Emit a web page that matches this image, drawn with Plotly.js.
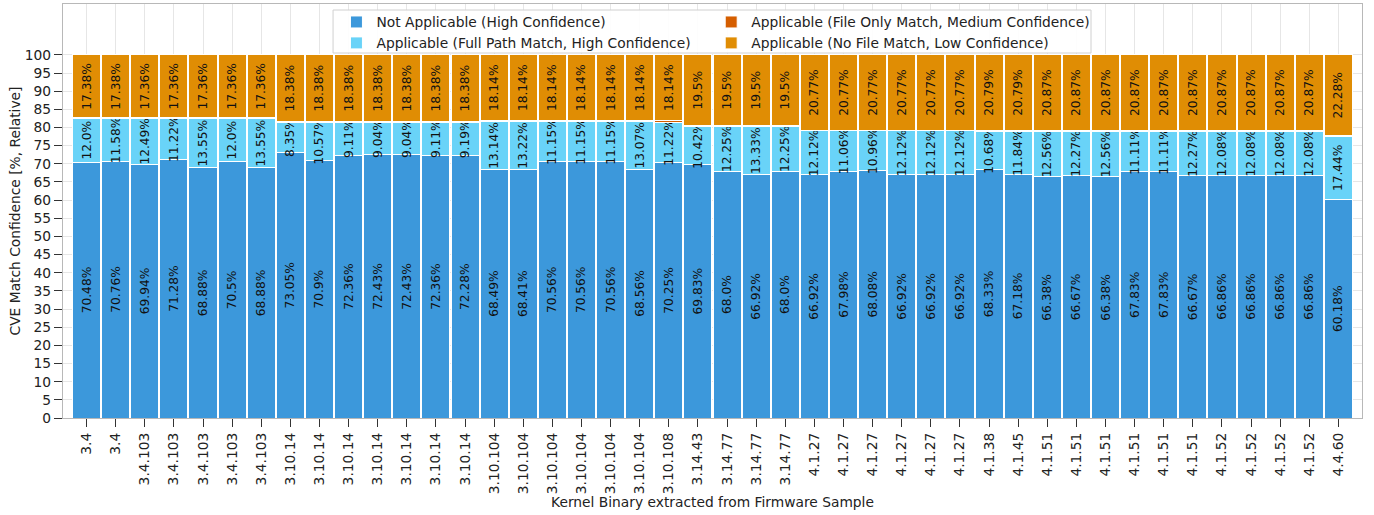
<!DOCTYPE html>
<html>
<head>
<meta charset="utf-8">
<script src="https://cdn.plot.ly/plotly-3.0.1.min.js"></script>
<style>
html,body{margin:0;padding:0;background:#fff;}
#chart{width:1374px;height:515px;}
</style>
</head>
<body>
<div id="chart"></div>
<script>
const kernels = ["3.4","3.4","3.4.103","3.4.103","3.4.103","3.4.103","3.4.103",
  "3.10.14","3.10.14","3.10.14","3.10.14","3.10.14","3.10.14","3.10.14",
  "3.10.104","3.10.104","3.10.104","3.10.104","3.10.104","3.10.104",
  "3.10.108","3.14.43","3.14.77","3.14.77","3.14.77",
  "4.1.27","4.1.27","4.1.27","4.1.27","4.1.27","4.1.27",
  "4.1.38","4.1.45",
  "4.1.51","4.1.51","4.1.51","4.1.51","4.1.51","4.1.51",
  "4.1.52","4.1.52","4.1.52","4.1.52","4.4.60"];

const notApplicable = [70.48,70.76,69.94,71.28,68.88,70.5,68.88,
  73.05,70.9,72.36,72.43,72.43,72.36,72.28,
  68.49,68.41,70.56,70.56,70.56,68.56,
  70.25,69.83,68.0,66.92,68.0,
  66.92,67.98,68.08,66.92,66.92,66.92,
  68.33,67.18,
  66.38,66.67,66.38,67.83,67.83,66.67,
  66.86,66.86,66.86,66.86,60.18];

const fullPath = [12.0,11.58,12.49,11.22,13.55,12.0,13.55,
  8.35,10.57,9.11,9.04,9.04,9.11,9.19,
  13.14,13.22,11.15,11.15,11.15,13.07,
  11.22,10.42,12.25,13.33,12.25,
  12.12,11.06,10.96,12.12,12.12,12.12,
  10.68,11.84,
  12.56,12.27,12.56,11.11,11.11,12.27,
  12.08,12.08,12.08,12.08,17.44];

const fileOnly = [0.14,0.28,0.21,0.14,0.21,0.14,0.21,
  0.22,0.15,0.15,0.15,0.15,0.15,0.15,
  0.23,0.23,0.15,0.15,0.15,0.23,
  0.39,0.25,0.25,0.25,0.25,
  0.19,0.19,0.19,0.19,0.19,0.19,
  0.2,0.19,
  0.19,0.19,0.19,0.19,0.19,0.19,
  0.19,0.19,0.19,0.19,0.1];

const noFile = [17.38,17.38,17.36,17.36,17.36,17.36,17.36,
  18.38,18.38,18.38,18.38,18.38,18.38,18.38,
  18.14,18.14,18.14,18.14,18.14,18.14,
  18.14,19.5,19.5,19.5,19.5,
  20.77,20.77,20.77,20.77,20.77,20.77,
  20.79,20.79,
  20.87,20.87,20.87,20.87,20.87,20.87,
  20.87,20.87,20.87,20.87,22.28];

const yTicks = [0,5,10,15,20,25,30,35,40,45,50,55,60,65,70,75,80,85,90,95,100];

const seriesNames = ["Not Applicable (High Confidence)",
  "Applicable (Full Path Match, High Confidence)",
  "Applicable (File Only Match, Medium Confidence)",
  "Applicable (No File Match, Low Confidence)"];
const seriesColors = ["#3c98db","#69d3f8","#d55e00","#e08d04"];

const xIdx = kernels.map((_, i) => i);
const FONT = "DejaVu Sans, sans-serif";
const FS = 13.8;

function barTrace(vals, k, legend, showText) {
  return {
    type: "bar",
    x: xIdx,
    y: vals,
    name: seriesNames[k],
    legend: legend,
    marker: {color: seriesColors[k], line: {color: "#ffffff", width: 1}},
    text: showText ? vals.map(v => (Number.isInteger(v) ? v.toFixed(1) : String(v)) + "%") : undefined,
    textposition: showText ? "inside" : "none",
    insidetextanchor: "middle",
    textangle: -90,
    constraintext: "none",
    textfont: {family: FONT, size: 12.2, color: "#111111"},
    hoverinfo: "y+name",
    cliponaxis: false
  };
}

const data = [
  barTrace(notApplicable, 0, "legend", true),
  barTrace(fullPath, 1, "legend", true),
  barTrace(fileOnly, 2, "legend2", false),
  barTrace(noFile, 3, "legend2", true)
];

const layout = {
  width: 1374, height: 515,
  margin: {l: 63, r: 12, t: 4, b: 97},
  barmode: "stack",
  bargap: 0.035,
  paper_bgcolor: "#ffffff",
  plot_bgcolor: "#ffffff",
  font: {family: FONT, size: FS, color: "#222222"},
  showlegend: true,
  xaxis: {
    range: [-0.81, 43.81],
    tickmode: "array",
    tickvals: xIdx,
    ticktext: kernels,
    tickangle: -90,
    ticks: "outside", ticklen: 8, tickcolor: "#333333", tickwidth: 1,
    showgrid: true, gridcolor: "#e6e6e6", gridwidth: 1,
    showline: true, linecolor: "#b8b8b8", linewidth: 1.2, mirror: true,
    zeroline: false,
    tickfont: {family: FONT, size: FS, color: "#222222"},
    title: {text: "Kernel Binary extracted from Firmware Sample", font: {family: FONT, size: FS, color: "#222222"}, standoff: 2},
    automargin: false
  },
  yaxis: {
    range: [0, 114],
    tickmode: "array", tickvals: yTicks,
    ticks: "outside", ticklen: 8, tickcolor: "#333333", tickwidth: 1,
    showgrid: true, gridcolor: "#e6e6e6", gridwidth: 1,
    showline: true, linecolor: "#b8b8b8", linewidth: 1.2, mirror: true,
    zeroline: false,
    tickfont: {family: FONT, size: FS, color: "#222222"},
    title: {text: "CVE Match Confidence [%, Relative]", font: {family: FONT, size: FS, color: "#222222"}, standoff: 0},
    automargin: false
  },
  legend: {
    x: 0.2105, y: 0.994, xanchor: "left", yanchor: "top",
    orientation: "v", traceorder: "normal", bgcolor: "rgba(0,0,0,0)", borderwidth: 0,
    font: {family: FONT, size: FS, color: "#222222"},
    tracegroupgap: 0, itemclick: false
  },
  legend2: {
    x: 0.499, y: 0.994, xanchor: "left", yanchor: "top",
    orientation: "v", traceorder: "normal", bgcolor: "rgba(0,0,0,0)", borderwidth: 0,
    font: {family: FONT, size: FS, color: "#222222"},
    tracegroupgap: 0, itemclick: false
  },
  shapes: [{
    type: "rect", xref: "paper", yref: "paper",
    x0: 0.2079, x1: 0.7914, y0: 0.8816, y1: 0.9855,
    fillcolor: "rgba(255,255,255,0.9)",
    line: {color: "#d0d0d0", width: 1},
    layer: "above"
  }]
};

Plotly.newPlot("chart", data, layout, {displayModeBar: false, staticPlot: true});
</script>
</body>
</html>
